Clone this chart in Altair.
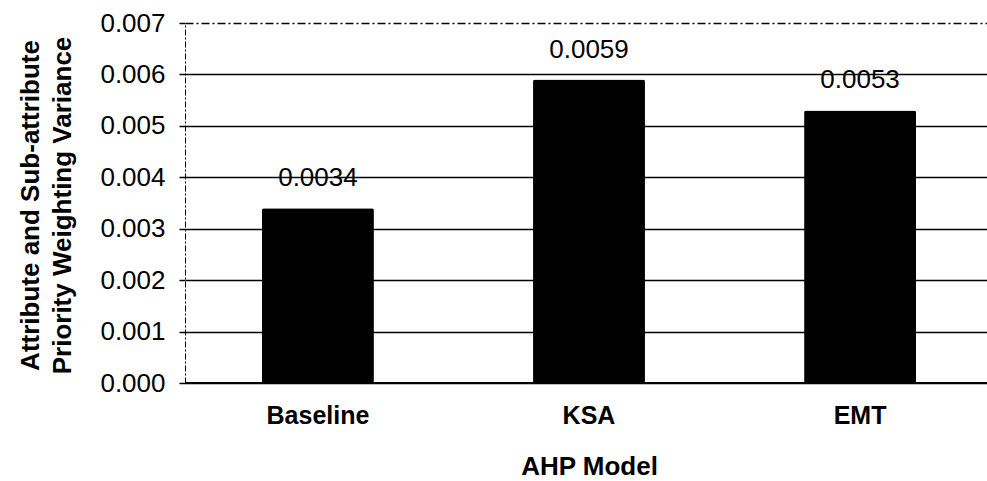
import altair as alt
import pandas as pd

models = ["Baseline", "KSA", "EMT"]
variance = [0.0034, 0.0059, 0.0053]
labels = ["0.0034", "0.0059", "0.0053"]

df = pd.DataFrame({"model": models, "variance": variance, "label": labels})

FONT = "Liberation Sans"

x = alt.X("model:N", sort=models,
          scale=alt.Scale(paddingInner=0.587, paddingOuter=0.284, range=[0, 808]),
          axis=alt.Axis(title="AHP Model", labelAngle=0, ticks=False, domain=False,
                        labelFontSize=25, labelFontWeight="bold", labelColor="black",
                        labelPadding=20, titleFontSize=26, titleFontWeight="bold",
                        titleColor="black", titlePadding=25, labelFont=FONT, titleFont=FONT))
y = alt.Y("variance:Q",
          scale=alt.Scale(domain=[0, 0.007], nice=False),
          axis=alt.Axis(values=[0, 0.001, 0.002, 0.003, 0.004, 0.005, 0.006, 0.007],
                        format=".3f", title=["Attribute and Sub-attribute", "Priority Weighting Variance"],
                        labelFontSize=26, labelColor="black", labelPadding=14, labelFont=FONT,
                        tickColor="black", tickSize=6, tickWidth=1.5,
                        domainColor="black", domainDash=[6, 2, 2, 2], domainWidth=1,
                        grid=True, gridColor="black", gridWidth=1.6,
                        gridDash=alt.ExprRef("datum.value >= 0.0069 ? [8, 3, 2, 3] : []"),
                        titleFontSize=26, titleFontWeight="bold", titleColor="black", titleFont=FONT,
                        titleAngle=270, titleAlign="center", titleBaseline="middle",
                        titleX=-155, titleY=182, titleLineHeight=32))

bars = alt.Chart(df).mark_bar(color="black", cornerRadius=2).encode(x=x, y=y)
text = alt.Chart(df).mark_text(dy=-30, fontSize=26, font=FONT, color="black").encode(
    x=alt.X("model:N", sort=models), y="variance:Q", text="label:N")
bottom = alt.Chart(df).mark_rule(color="black", strokeWidth=1.6).encode(
    x=alt.value(0), x2=alt.value(802), y=alt.value(360))

chart = alt.layer(bars, text, bottom).properties(
    width=802, height=360,
    autosize=alt.AutoSizeParams(type="none"),
    padding={"left": 185, "top": 23, "right": 0, "bottom": 98},
    background="white"
).configure_view(stroke=None)

chart.save("out.html", embed_options={"renderer": "svg", "actions": False})
